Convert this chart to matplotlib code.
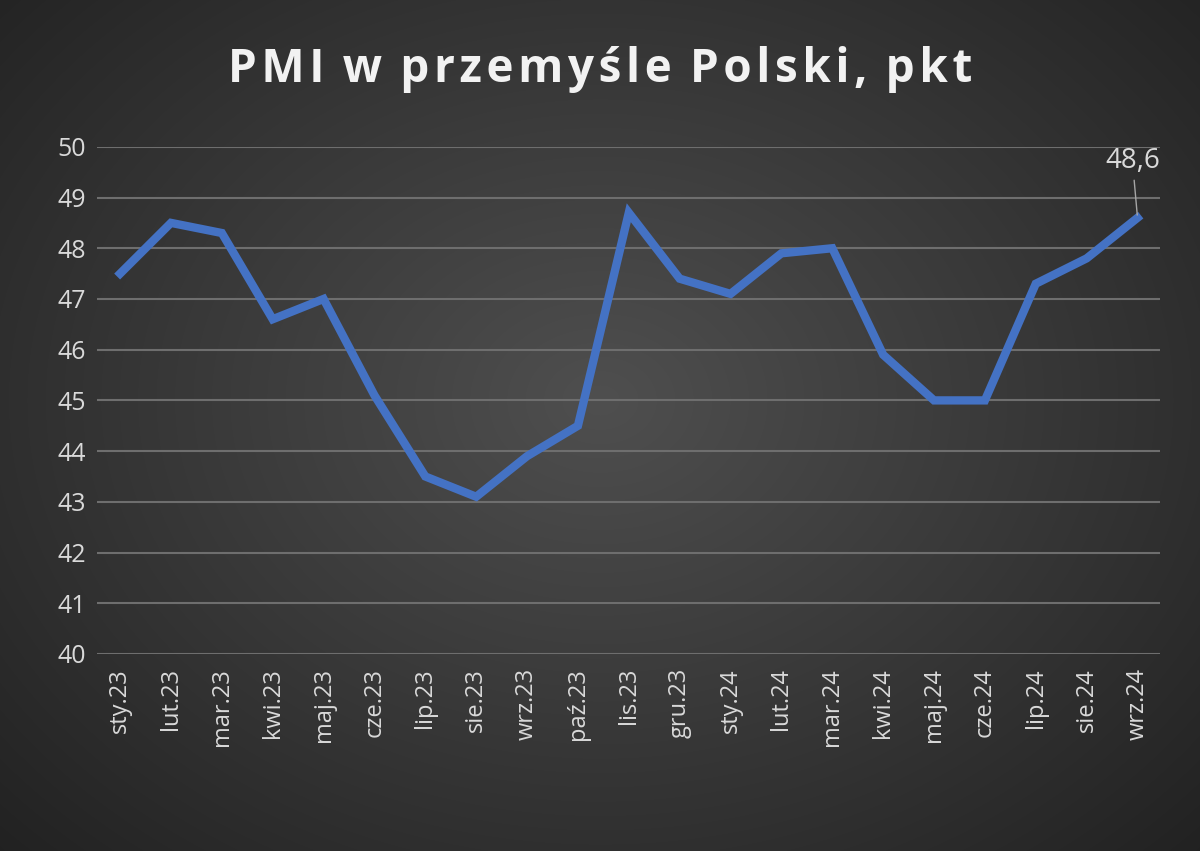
import numpy as np
import matplotlib
matplotlib.use("Agg")
import matplotlib.pyplot as plt

months = ["sty.23","lut.23","mar.23","kwi.23","maj.23","cze.23","lip.23","sie.23","wrz.23","paź.23",
          "lis.23","gru.23","sty.24","lut.24","mar.24","kwi.24","maj.24","cze.24","lip.24","sie.24","wrz.24"]
pmi = [47.5,48.5,48.3,46.6,47.0,45.1,43.5,43.1,43.9,44.5,48.7,47.4,47.1,47.9,48.0,45.9,45.0,45.0,47.3,47.8,48.6]
yticks = list(range(40, 51))

plt.rcParams['font.family'] = ['Open Sans', 'DejaVu Sans']
fig = plt.figure(figsize=(12, 8.51), dpi=100)

bg = fig.add_axes([0, 0, 1, 1], zorder=-1)
yy, xx = np.mgrid[0:851, 0:1200]
r = np.sqrt(((xx - 600) / 800) ** 2 + ((yy - 400) / 620) ** 2)
v = np.clip(0.31 - 0.17 * r, 0.13, 0.31)
bg.imshow(np.dstack([v, v, v]), aspect='auto', extent=[0, 1, 0, 1])
bg.axis('off')

ax = fig.add_axes([0.081, 0.2315, 0.886, 0.596])
ax.set_facecolor('none')
x = np.arange(len(months))
ax.plot(x, pmi, color='#4472C4', lw=6, solid_joinstyle='miter', zorder=3)
ax.set_ylim(40, 50)
ax.set_xlim(-0.45, len(months) - 0.55)
ax.set_yticks(yticks)
ax.yaxis.grid(True, color='#6e6e6e', lw=1.5)
ax.set_axisbelow(True)
ax.set_xticks(x)
ax.set_xticklabels(months, rotation=90, fontsize=17, color='#d9d9d9')
ax.tick_params(axis='y', labelsize=18, labelcolor='#d9d9d9', length=0, pad=8)
ax.tick_params(axis='x', length=0, pad=10)
for s in ax.spines.values():
    s.set_visible(False)

ax.annotate(f"{pmi[-1]:.1f}".replace('.', ','), xy=(x[-1], pmi[-1]), xytext=(x[-1] - 0.1, 49.45),
            ha='center', va='bottom', fontsize=20, color='#d9d9d9',
            arrowprops=dict(arrowstyle='-', color='#a6a6a6', lw=1))

fig.text(0.5, 0.918, "P M I  w  p r z e m y ś l e  P o l s k i ,  p k t".replace("  ", "\u2009\u2009").replace(" ", "\u200a"),
         ha='center', va='center', fontsize=33, fontweight='bold', color='#f2f2f2',
         family=['Open Sans', 'DejaVu Sans'])
fig.savefig("out.png", dpi=100)
